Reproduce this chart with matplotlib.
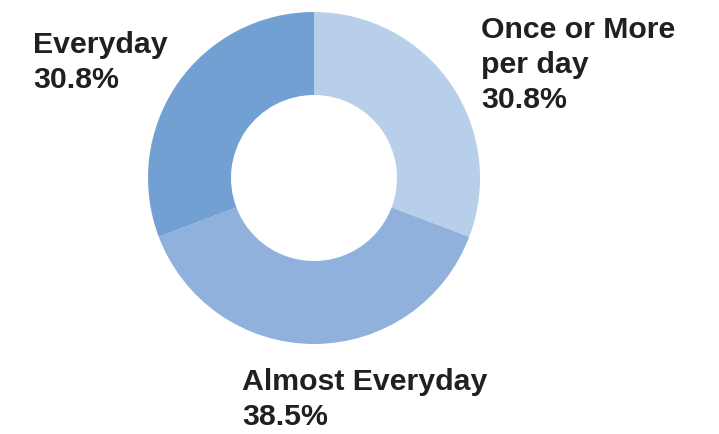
import matplotlib.pyplot as plt

# Частка відповідей по кожній категорії, %
labels = ["Once or More\nper day", "Almost Everyday", "Everyday"]
values = [30.8, 38.5, 30.8]
colors = ["#b8cfea", "#8fb1db", "#72a0d3"]

# Позиції підписів (ліва межа, базова лінія першого рядка) у пікселях від верхнього лівого кута
label_pos = [(481, 38), (242, 390), (33, 53)]

W, H = 719, 434
fig = plt.figure(figsize=(W / 100, H / 100), dpi=100)
ax = fig.add_axes([0, 0, 1, 1])
ax.set_xlim(0, W)
ax.set_ylim(0, H)
ax.set_aspect("equal")
ax.axis("off")

# Кільцева діаграма, від верху за годинниковою стрілкою
outer_r = 166
ax.pie(values, colors=colors, startangle=90, counterclock=False,
       center=(314, H - 178), radius=outer_r,
       wedgeprops=dict(width=83, edgecolor="none"))
ax.set_xlim(0, W)
ax.set_ylim(0, H)

line_step = 35
for name, val, (x, y) in zip(labels, values, label_pos):
    lines = name.split("\n") + [f"{val}%"]
    for i, line in enumerate(lines):
        ax.text(x, H - (y + i * line_step), line, ha="left", va="baseline",
                fontsize=21.8, fontweight="bold", color="#231f20",
                family=["Liberation Sans", "DejaVu Sans"])

fig.savefig("out.png", dpi=100)
